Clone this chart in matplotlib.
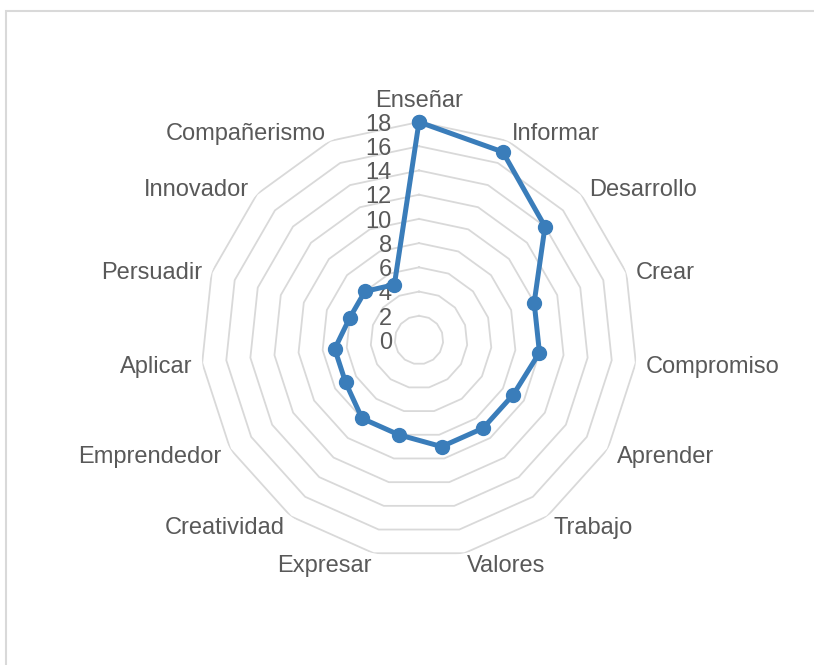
import numpy as np
import matplotlib
matplotlib.use("Agg")
import matplotlib.pyplot as plt
from matplotlib.patches import Rectangle

# categorias (sentido horario desde arriba)
categorias = ["Enseñar", "Informar", "Desarrollo", "Crear", "Compromiso",
              "Aprender", "Trabajo", "Valores", "Expresar", "Creatividad",
              "Emprendedor", "Aplicar", "Persuadir", "Innovador", "Compañerismo"]
valores = [18, 17, 14, 10, 10, 9, 9, 9, 8, 8, 7, 7, 6, 6, 5]
niveles = [0, 2, 4, 6, 8, 10, 12, 14, 16, 18]

plt.rcParams['font.family'] = ['Liberation Sans', 'DejaVu Sans']
gris_txt = "#595959"
gris_red = "#d9d9d9"
azul = "#3A7DBA"

fig = plt.figure(figsize=(8.14, 6.65), dpi=100)

# marco del grafico
fig.patches.append(Rectangle((6 / 814, -0.05), 1.1, 1 - 11 / 665 + 0.05,
                             transform=fig.transFigure, fill=False,
                             edgecolor=gris_red, linewidth=1.5))

cx, cy, rad = 419 / 814, 1 - 340 / 665, 218
ax = fig.add_axes([cx - rad / 814, cy - rad / 665, 2 * rad / 814, 2 * rad / 665],
                  projection="polar")
ax.set_theta_zero_location("N")
ax.set_theta_direction(-1)
ax.set_ylim(0, 18)
ax.grid(False)
ax.spines["polar"].set_visible(False)
ax.set_xticks([])
ax.set_yticks([])
ax.patch.set_alpha(0)

n = len(categorias)
ang = np.arange(n) * 2 * np.pi / n
ang_c = np.append(ang, ang[0])

# anillos poligonales
for v in niveles[1:]:
    ax.plot(ang_c, [v] * (n + 1), color=gris_red, linewidth=1.3, zorder=1)

# etiquetas del eje de valores
for v in niveles:
    ax.annotate(str(v), xy=(0, v), xytext=(-19.5, -2), textcoords="offset points",
                ha="right", va="center", fontsize=17, color=gris_txt)

# etiquetas de categorias
for a, c in zip(ang, categorias):
    deg = np.degrees(a)
    dy = -2.2
    if deg == 0:
        ha, va, dy = "center", "bottom", 0
    elif deg < 180:
        ha, va = "left", "center"
    else:
        ha, va = "right", "center"
    ax.annotate(c, xy=(a, 18.85), xytext=(0, dy), textcoords="offset points",
                ha=ha, va=va, fontsize=17, color=gris_txt, annotation_clip=False)

vals_c = valores + valores[:1]
ax.plot(ang_c, vals_c, color=azul, linewidth=3.6, marker="o", markersize=10,
        zorder=3, clip_on=False)

fig.savefig("out.png", dpi=100)
